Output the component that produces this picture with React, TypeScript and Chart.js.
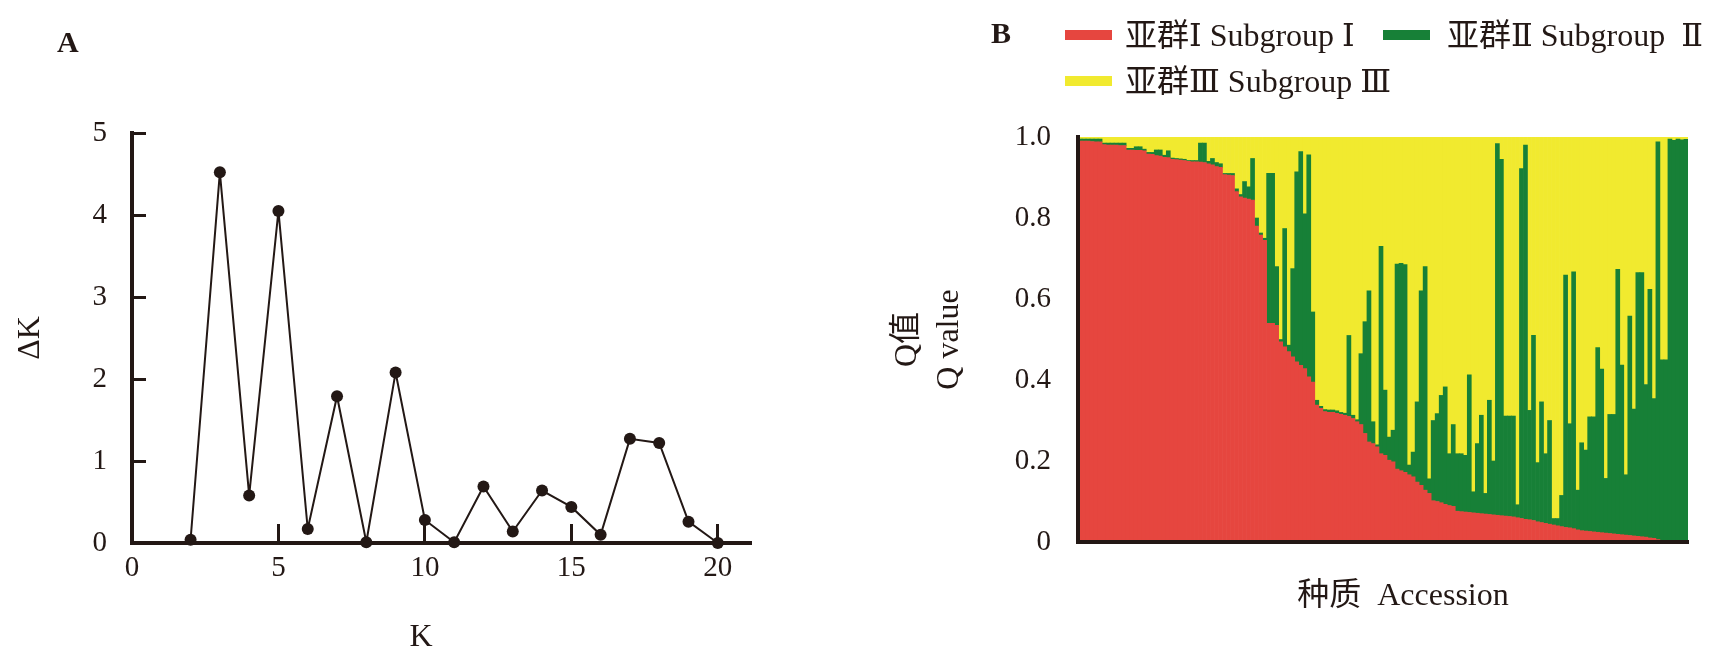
import React, { useEffect, useRef } from "react";
import { Chart, registerables } from "chart.js";

Chart.register(...registerables);

// ---------- Panel A data ----------
const K_VALUES = [2, 3, 4, 5, 6, 7, 8, 9, 10, 11, 12, 13, 14, 15, 16, 17, 18, 19, 20];
const DELTA_K = [0.04, 4.52, 0.58, 4.05, 0.17, 1.79, 0.01, 2.08, 0.28, 0.01, 0.69, 0.14, 0.64, 0.44, 0.1, 1.27, 1.22, 0.26, 0.0];

// ---------- Panel B data (Q values per accession) ----------
const SUBGROUP_I = [
  0.99, 0.99, 0.99, 0.989, 0.988, 0.988, 0.981, 0.98, 0.98, 0.98,
  0.979, 0.979, 0.968, 0.968, 0.967, 0.967, 0.966, 0.958, 0.957, 0.954,
  0.953, 0.95, 0.949, 0.945, 0.944, 0.943, 0.942, 0.94, 0.939, 0.939,
  0.938, 0.937, 0.934, 0.931, 0.927, 0.925, 0.907, 0.906, 0.905, 0.865,
  0.852, 0.849, 0.847, 0.844, 0.78, 0.758, 0.745, 0.54, 0.54, 0.535,
  0.494, 0.482, 0.47, 0.457, 0.445, 0.436, 0.428, 0.408, 0.395, 0.338,
  0.33, 0.322, 0.32, 0.32, 0.318, 0.315, 0.313, 0.31, 0.305, 0.297,
  0.29, 0.268, 0.247, 0.243, 0.235, 0.218, 0.214, 0.202, 0.198, 0.18,
  0.176, 0.172, 0.166, 0.161, 0.148, 0.14, 0.128, 0.12, 0.102, 0.1,
  0.097, 0.093, 0.09, 0.088, 0.076, 0.075, 0.074, 0.073, 0.072, 0.071,
  0.07, 0.069, 0.068, 0.067, 0.066, 0.065, 0.064, 0.063, 0.062, 0.06,
  0.058, 0.056, 0.055, 0.053, 0.05, 0.048, 0.046, 0.044, 0.042, 0.04,
  0.038, 0.036, 0.035, 0.033, 0.03, 0.028, 0.027, 0.026, 0.025, 0.024,
  0.023, 0.022, 0.021, 0.02, 0.019, 0.018, 0.017, 0.016, 0.015, 0.014,
  0.013, 0.012, 0.01, 0.009, 0.006, 0.003, 0, 0, 0, 0,
  0, 0,
];
const SUBGROUP_II = [
  0.005, 0.005, 0.005, 0.006, 0.007, 0.007, 0.004, 0.005, 0.005, 0.005,
  0.006, 0.006, 0.004, 0.004, 0.009, 0.009, 0.004, 0.004, 0.005, 0.014,
  0.015, 0.005, 0.017, 0.003, 0.003, 0.003, 0.003, 0.002, 0.003, 0.003,
  0.047, 0.048, 0.006, 0.016, 0.01, 0.009, 0.003, 0.004, 0.005, 0.007,
  0.006, 0.041, 0.03, 0.103, 0.02, 0.005, 0.005, 0.37, 0.37, 0.145,
  0.006, 0.292, 0.016, 0.218, 0.469, 0.528, 0.382, 0.548, 0.173, 0.012,
  0.005, 0.005, 0.006, 0.006, 0.006, 0.005, 0.005, 0.2, 0.008, 0.005,
  0.175, 0.276, 0.373, 0.054, 0.005, 0.512, 0.161, 0.057, 0.078, 0.506,
  0.512, 0.513, 0.024, 0.061, 0.198, 0.48, 0.552, 0.036, 0.198, 0.217,
  0.265, 0.29, 0.128, 0.202, 0.142, 0.143, 0.14, 0.34, 0.052, 0.172,
  0.243, 0.051, 0.282, 0.133, 0.918, 0.88, 0.247, 0.248, 0.249, 0.032,
  0.864, 0.924, 0.27, 0.457, 0.146, 0.298, 0.172, 0.256, 0.016, 0.018,
  0.077, 0.623, 0.257, 0.634, 0.098, 0.217, 0.2, 0.283, 0.284, 0.456,
  0.404, 0.135, 0.294, 0.295, 0.654, 0.419, 0.149, 0.542, 0.313, 0.651,
  0.652, 0.377, 0.614, 0.345, 0.982, 0.447, 0.45, 0.995, 0.992, 0.995,
  0.993, 0.994,
];
const SUBGROUP_III = [
  0.005, 0.005, 0.005, 0.005, 0.005, 0.005, 0.015, 0.015, 0.015, 0.015,
  0.015, 0.015, 0.028, 0.028, 0.024, 0.024, 0.03, 0.038, 0.038, 0.032,
  0.032, 0.045, 0.034, 0.052, 0.053, 0.054, 0.055, 0.058, 0.058, 0.058,
  0.015, 0.015, 0.06, 0.053, 0.063, 0.066, 0.09, 0.09, 0.09, 0.128,
  0.142, 0.11, 0.123, 0.053, 0.2, 0.237, 0.25, 0.09, 0.09, 0.32,
  0.5, 0.226, 0.514, 0.325, 0.086, 0.036, 0.19, 0.044, 0.432, 0.65,
  0.665, 0.673, 0.674, 0.674, 0.676, 0.68, 0.682, 0.49, 0.687, 0.698,
  0.535, 0.456, 0.38, 0.703, 0.76, 0.27, 0.625, 0.741, 0.724, 0.314,
  0.312, 0.315, 0.81, 0.778, 0.654, 0.38, 0.32, 0.844, 0.7, 0.683,
  0.638, 0.617, 0.782, 0.71, 0.782, 0.782, 0.786, 0.587, 0.876, 0.757,
  0.687, 0.88, 0.65, 0.8, 0.016, 0.055, 0.689, 0.689, 0.689, 0.908,
  0.078, 0.02, 0.675, 0.49, 0.804, 0.654, 0.782, 0.7, 0.942, 0.942,
  0.885, 0.341, 0.708, 0.333, 0.872, 0.755, 0.773, 0.691, 0.691, 0.52,
  0.573, 0.843, 0.685, 0.685, 0.327, 0.563, 0.834, 0.442, 0.672, 0.335,
  0.335, 0.611, 0.376, 0.646, 0.012, 0.55, 0.55, 0.005, 0.008, 0.005,
  0.007, 0.006,
];
const ACCESSIONS = SUBGROUP_I.map((_, i) => String(i + 1));

const LEGEND_LABELS = ["亚群Ⅰ Subgroup Ⅰ", "亚群Ⅱ Subgroup  Ⅱ", "亚群Ⅲ Subgroup Ⅲ"];

const INK = "#231815";
const RED = "#E6463F";
const GREEN = "#178037";
const YELLOW = "#F1EA2F";
const SERIF = "'Liberation Serif', 'DejaVu Serif', 'Noto Sans CJK SC', serif";

export default function App() {
  const aRef = useRef<HTMLCanvasElement>(null);
  const bRef = useRef<HTMLCanvasElement>(null);

  useEffect(() => {
    const chartA = new Chart(aRef.current as HTMLCanvasElement, {
      type: "scatter",
      data: {
        datasets: [
          {
            data: K_VALUES.map((k, i) => ({ x: k, y: DELTA_K[i] })),
            showLine: true,
            borderColor: INK,
            borderWidth: 2,
            pointRadius: 6,
            pointBackgroundColor: INK,
            pointBorderColor: INK,
            pointBorderWidth: 0,
            clip: false,
          } as any,
        ],
      },
      options: {
        responsive: false,
        animation: false,
        devicePixelRatio: 1,
        layout: { padding: { top: 133, right: 50, left: 0, bottom: 0 } },
        plugins: { legend: { display: false }, tooltip: { enabled: false } },
        scales: {
          x: {
            type: "linear",
            min: 0,
            max: 21.1,
            afterFit: (s: any) => {
              s.height = 125;
            },
            ticks: {
              stepSize: 5,
              includeBounds: false,
              color: INK,
              font: { family: SERIF, size: 29 },
              padding: 27,
              maxRotation: 0,
            },
            grid: { drawOnChartArea: false, drawTicks: true, tickLength: -19, lineWidth: 3, color: INK },
            border: { display: true, width: 4, color: INK },
            title: {
              display: true,
              text: "K\u3000 ",
              color: INK,
              font: { family: SERIF, size: 32 },
              padding: { top: 0, bottom: 11 },
            },
          },
          y: {
            min: 0,
            max: 5,
            afterFit: (s: any) => {
              s.width = 132;
            },
            ticks: {
              stepSize: 1,
              color: INK,
              font: { family: SERIF, size: 29 },
              padding: 39,
            },
            grid: { drawOnChartArea: false, drawTicks: true, tickLength: -14, lineWidth: 3, color: INK },
            border: { display: true, width: 4, color: INK },
            title: {
              display: true,
              text: "ΔK",
              color: INK,
              font: { family: SERIF, size: 32 },
              padding: { top: 11, bottom: 0 },
            },
          },
        },
      } as any,
    });

    const chartB = new Chart(bRef.current as HTMLCanvasElement, {
      type: "bar",
      data: {
        labels: ACCESSIONS,
        datasets: [
          { label: LEGEND_LABELS[0], data: SUBGROUP_I, backgroundColor: RED },
          { label: LEGEND_LABELS[1], data: SUBGROUP_II, backgroundColor: GREEN },
          { label: LEGEND_LABELS[2], data: SUBGROUP_III, backgroundColor: YELLOW },
        ],
      },
      options: {
        responsive: false,
        animation: false,
        devicePixelRatio: 1,
        datasets: { bar: { categoryPercentage: 1, barPercentage: 1, borderWidth: 0 } },
        layout: { padding: { top: 137, right: 24, left: 0, bottom: 0 } },
        plugins: { legend: { display: false }, tooltip: { enabled: false } },
        scales: {
          x: {
            stacked: true,
            afterFit: (s: any) => {
              s.height = 126;
            },
            ticks: { display: false },
            grid: { display: false, drawTicks: false },
            border: { display: true, width: 4, color: INK, z: 1 },
            title: {
              display: true,
              text: "\u3000 种质  Accession",
              color: INK,
              font: { family: SERIF, size: 32 },
              padding: { top: 0, bottom: 52 },
            },
          },
          y: {
            stacked: true,
            min: 0,
            max: 1,
            afterFit: (s: any) => {
              s.width = 198;
            },
            ticks: {
              stepSize: 0.2,
              padding: 27,
              color: INK,
              font: { family: SERIF, size: 29 },
              callback: (v: any) => (Number(v) === 0 ? "0" : Number(v).toFixed(1)),
            },
            grid: { display: false, drawTicks: false },
            border: { display: true, width: 4, color: INK, z: 1 },
            title: {
              display: true,
              text: ["Q值", "Q value"],
              color: INK,
              font: { family: SERIF, size: 32, lineHeight: 1.3 },
              padding: { top: 7, bottom: 0 },
            },
          },
        },
      } as any,
    });

    return () => {
      chartA.destroy();
      chartB.destroy();
    };
  }, []);

  const legendText: React.CSSProperties = {
    position: "absolute",
    fontFamily: SERIF,
    fontSize: 32,
    lineHeight: "40px",
    height: 40,
    color: INK,
    whiteSpace: "pre",
  };
  const swatch = (color: string): React.CSSProperties => ({
    position: "absolute",
    width: 47,
    height: 10,
    background: color,
  });
  const panelLabel: React.CSSProperties = {
    position: "absolute",
    fontFamily: SERIF,
    fontWeight: "bold",
    fontSize: 30,
    lineHeight: "30px",
    color: INK,
  };

  return (
    <div
      style={{
        position: "absolute",
        left: 0,
        top: 0,
        width: 1712,
        height: 668,
        background: "#ffffff",
        overflow: "hidden",
      }}
    >
      <canvas
        ref={aRef}
        width={800}
        height={668}
        style={{ position: "absolute", left: 0, top: 0, width: 800, height: 668 }}
      />
      <canvas
        ref={bRef}
        width={832}
        height={668}
        style={{ position: "absolute", left: 880, top: 0, width: 832, height: 668 }}
      />
      <div style={{ ...panelLabel, left: 57, top: 27 }}>A</div>
      <div style={{ ...panelLabel, left: 991, top: 18 }}>B</div>

      <div style={{ ...swatch(RED), left: 1065, top: 30 }} />
      <div style={{ ...legendText, left: 1125, top: 15 }}>{LEGEND_LABELS[0]}</div>
      <div style={{ ...swatch(GREEN), left: 1383, top: 30 }} />
      <div style={{ ...legendText, left: 1447, top: 15 }}>{LEGEND_LABELS[1]}</div>
      <div style={{ ...swatch(YELLOW), left: 1065, top: 76 }} />
      <div style={{ ...legendText, left: 1125, top: 61 }}>{LEGEND_LABELS[2]}</div>
    </div>
  );
}
